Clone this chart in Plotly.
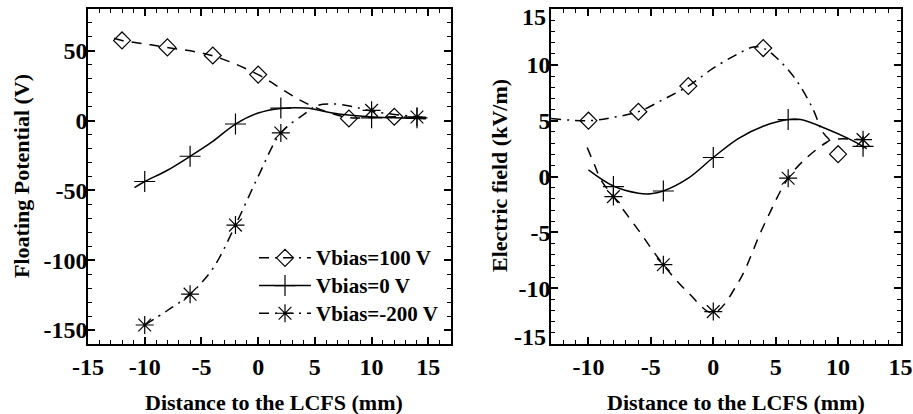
import plotly.graph_objects as go

# ---------------- Left panel: Floating potential ----------------
fp_x_100 = [-12, -8, -4, 0, 8, 12]
fp_y_100 = [57.5, 52.5, 46.7, 33, 1.6, 2.8]
fp_cx_100 = [-12.7, -12, -8, -4, 0, 2.2, 3.9, 6, 8, 10, 12, 14.8]
fp_cy_100 = [59, 57.5, 52.5, 46.5, 33, 22, 13.8, 6.5, 2.2, 2.3, 2.8, 2.0]

fp_x_0 = [-10, -6, -2, 2, 10, 14]
fp_y_0 = [-43.6, -25.5, -2.4, 9, 2, 2]
fp_cx_0 = [-10.9, -10, -8, -6, -4, -2, 0, 2, 4.2, 7.1, 10.1, 12, 14.8]
fp_cy_0 = [-48, -43.6, -35.5, -25.5, -14.8, -2.4, 5.5, 8.8, 9.0, 4.8, 2.6, 2.0, 1.3]

fp_x_m200 = [-10, -6, -2, 2, 10, 14]
fp_y_m200 = [-146.4, -124.3, -74.8, -8.8, 7.4, 2.6]
fp_cx_m200 = [-10, -8, -6, -4, -2, 0, 2, 4, 5.2, 6.5, 8.3, 10, 12, 14, 14.8]
fp_cy_m200 = [-146.4, -136, -124.3, -106, -74.8, -40, -8.8, 4.3, 10.8, 12, 10.2, 6.8, 4.5, 2.8, 2.2]

# ---------------- Right panel: Electric field ----------------
ef_x_100 = [-10, -6, -2, 4, 10]
ef_y_100 = [5.0, 5.8, 8.1, 11.5, 2.0]
ef_cx_100 = [-13, -10, -8, -6, -4, -2, 0, 2, 3.2, 4, 5.0, 6.6, 8.0, 8.75, 9.4]
ef_cy_100 = [5.2, 5.0, 5.3, 5.8, 6.9, 8.1, 9.7, 11.0, 11.6, 11.5, 10.7, 8.7, 6.0, 4.0, 3.2]

ef_x_0 = [-8, -4, 0, 6, 12]
ef_y_0 = [-0.9, -1.3, 1.7, 5.1, 2.7]
ef_cx_0 = [-10, -8, -6, -5, -4, -2, 0, 2, 4, 6, 7, 9, 11, 12.3]
ef_cy_0 = [0.6, -0.85, -1.5, -1.55, -1.3, -0.15, 1.7, 3.4, 4.5, 5.1, 5.1, 4.3, 3.3, 2.5]

ef_x_m200 = [-8, -4, 0, 6, 12]
ef_y_m200 = [-1.8, -7.9, -12.1, -0.15, 3.3]
ef_cx_m200 = [-10.1, -9.5, -9, -8, -6, -4, -2, 0, 2, 4, 6, 7.4, 9.0, 9.5, 12]
ef_cy_m200 = [2.6, 1.0, -0.3, -1.8, -4.8, -7.9, -10.4, -12.2, -9.5, -4.5, -0.15, 1.6, 3.0, 3.3, 3.3]

series_names = ["Vbias=100 V", "Vbias=0 V", "Vbias=-200 V"]

# tick labels
fp_xtick_vals = [-15, -10, -5, 0, 5, 10, 15]
fp_xtick_text = ["-15", "-10", "-5", "0", "5", "10", "15"]
fp_ytick_vals = [-150, -100, -50, 0, 50]
fp_ytick_text = ["-150", "-100", "-50", "0", "50"]
ef_xtick_vals = [-10, -5, 0, 5, 10, 15]
ef_xtick_text = ["-10", "-5", "0", "5", "10", "15"]
ef_ytick_vals = [-15, -10, -5, 0, 5, 10, 15]
ef_ytick_text = ["", "-10", "-5", "0", "5", "10", ""]
ef_yedge_text = ["-15", "15"]  # end labels, nudged inward as in the reference

FONT = "Liberation Serif, Times New Roman, Times, serif"
BLACK = "#000000"
DASH = "10px,8px"
DASHDOT = "10px,6px,2px,6px"
LW = 1.5

fig = go.Figure()


def add_series(cx, cy, x, y, dash, symbol, size, name, xa, ya):
    fig.add_trace(go.Scatter(
        x=cx, y=cy, mode="lines", line=dict(color=BLACK, width=LW, dash=dash, shape="spline"),
        xaxis=xa, yaxis=ya, showlegend=False, hoverinfo="skip"))
    fig.add_trace(go.Scatter(
        x=x, y=y, mode="markers", name=name,
        marker=dict(symbol=symbol, size=size, color=BLACK, line=dict(color=BLACK, width=1.2)),
        xaxis=xa, yaxis=ya, showlegend=False))


add_series(fp_cx_100, fp_cy_100, fp_x_100, fp_y_100, DASH, "diamond-open", 13, series_names[0], "x", "y")
add_series(fp_cx_0, fp_cy_0, fp_x_0, fp_y_0, "solid", "cross-thin-open", 15, series_names[1], "x", "y")
add_series(fp_cx_m200, fp_cy_m200, fp_x_m200, fp_y_m200, DASHDOT, "asterisk-open", 15, series_names[2], "x", "y")

add_series(ef_cx_100, ef_cy_100, ef_x_100, ef_y_100, DASHDOT, "diamond-open", 13, series_names[0], "x2", "y2")
add_series(ef_cx_0, ef_cy_0, ef_x_0, ef_y_0, "solid", "cross-thin-open", 15, series_names[1], "x2", "y2")
add_series(ef_cx_m200, ef_cy_m200, ef_x_m200, ef_y_m200, DASH, "asterisk-open", 15, series_names[2], "x2", "y2")

# legend entries (as in the reference legend)
legend_dash = [DASHDOT, "solid", DASHDOT]
legend_sym = ["diamond-open", "cross-thin-open", "asterisk-open"]
legend_size = [13, 15, 15]
for nm, d, s, sz in zip(series_names, legend_dash, legend_sym, legend_size):
    fig.add_trace(go.Scatter(
        x=[None], y=[None], mode="lines+markers",
        name='<span style="font-size:21px">' + nm + "</span>",
        line=dict(color=BLACK, width=LW, dash=d),
        marker=dict(symbol=s, size=sz, color=BLACK, line=dict(color=BLACK, width=1.2)),
        xaxis="x", yaxis="y", showlegend=True))

W, H = 913, 414
OFF = 0  # body margin removed by post_script below


def px_x(p):
    return (p - OFF) / W


def px_y(p):
    return 1 - (p - OFF) / H


tickfont = dict(family=FONT, size=24, color=BLACK, weight="bold")


def main_axis(rng, vals, text, minor_dtick, dom, anchor, standoff):
    return dict(
        domain=dom, range=rng, anchor=anchor, automargin=False,
        tickmode="array", tickvals=vals, ticktext=text,
        showline=True, linecolor=BLACK, linewidth=1.5, mirror=True,
        ticks="inside", ticklen=7, tickwidth=1.5, tickcolor=BLACK,
        minor=dict(dtick=minor_dtick, tick0=0, ticks="inside", ticklen=4, tickwidth=1, tickcolor=BLACK),
        showgrid=False, zeroline=False, tickfont=tickfont, ticklabelstandoff=standoff,
        ticklabeloverflow="allow",
    )


def mirror_axis(rng, vals, minor_dtick, overlay, side, anchor):
    return dict(
        range=rng, overlaying=overlay, side=side, anchor=anchor, automargin=False,
        tickmode="array", tickvals=vals, showticklabels=False,
        showline=False, ticks="inside", ticklen=7, tickwidth=1.5, tickcolor=BLACK,
        minor=dict(dtick=minor_dtick, tick0=0, ticks="inside", ticklen=4, tickwidth=1, tickcolor=BLACK),
        showgrid=False, zeroline=False,
    )


xdom1 = [px_x(88), px_x(451)]
xdom2 = [px_x(551), px_x(900.5)]
ydom = [px_y(344), px_y(9)]

fig.update_layout(
    width=W, height=H,
    margin=dict(l=0, r=0, t=0, b=0, autoexpand=False),
    paper_bgcolor="white", plot_bgcolor="white",
    font=dict(family=FONT, color=BLACK),
    xaxis=main_axis([-15, 17], fp_xtick_vals, fp_xtick_text, 1, xdom1, "y", 0),
    yaxis=main_axis([-160, 80], fp_ytick_vals, fp_ytick_text, 10, ydom, "x", -6),
    xaxis2=main_axis([-13, 15], ef_xtick_vals, ef_xtick_text, 1, xdom2, "y2", 0),
    yaxis2=main_axis([-15, 15], ef_ytick_vals, ef_ytick_text, 1, ydom, "x2", -6),
    xaxis3=mirror_axis([-15, 17], fp_xtick_vals, 1, "x", "top", "y"),
    yaxis3=mirror_axis([-160, 80], fp_ytick_vals, 10, "y", "right", "x"),
    xaxis4=mirror_axis([-13, 15], ef_xtick_vals, 1, "x2", "top", "y2"),
    yaxis4=mirror_axis([-15, 15], ef_ytick_vals, 1, "y2", "right", "x2"),
    legend=dict(x=px_x(254), y=px_y(239), xanchor="left", yanchor="top",
                bgcolor="rgba(0,0,0,0)", itemwidth=52, tracegroupgap=0,
                font=dict(family=FONT, size=19, color=BLACK, weight="bold")),
    showlegend=True,
)

# invisible anchor traces so mirror axes are drawn
fig.add_trace(go.Scatter(x=[None], y=[None], xaxis="x3", yaxis="y3", showlegend=False, hoverinfo="skip"))
fig.add_trace(go.Scatter(x=[None], y=[None], xaxis="x4", yaxis="y4", showlegend=False, hoverinfo="skip"))

# right-panel y end labels, pulled inside the frame like the reference
fig.add_annotation(text=ef_yedge_text[1], x=px_x(548), y=px_y(17), xref="paper", yref="paper",
                   showarrow=False, font=tickfont, xanchor="right", yanchor="middle")
fig.add_annotation(text=ef_yedge_text[0], x=px_x(548), y=px_y(337), xref="paper", yref="paper",
                   showarrow=False, font=tickfont, xanchor="right", yanchor="middle")

title_font = dict(family=FONT, size=22, color=BLACK, weight="bold")
fig.add_annotation(text="Floating Potential (V)", x=px_x(21), y=px_y(176), xref="paper", yref="paper",
                   textangle=-90, showarrow=False, font=title_font, xanchor="center", yanchor="middle")
fig.add_annotation(text="Electric field (kV/m)", x=px_x(499), y=px_y(176), xref="paper", yref="paper",
                   textangle=-90, showarrow=False, font=title_font, xanchor="center", yanchor="middle")
fig.add_annotation(text="Distance to the LCFS (mm)", x=px_x(274), y=px_y(402), xref="paper", yref="paper",
                   showarrow=False, font=title_font, xanchor="center", yanchor="middle")
fig.add_annotation(text="Distance to the LCFS (mm)", x=px_x(736), y=px_y(402), xref="paper", yref="paper",
                   showarrow=False, font=title_font, xanchor="center", yanchor="middle")

fig.write_html("out.html", config={"displayModeBar": False},
               post_script="document.body.style.margin='0';document.body.style.overflow='hidden';")
